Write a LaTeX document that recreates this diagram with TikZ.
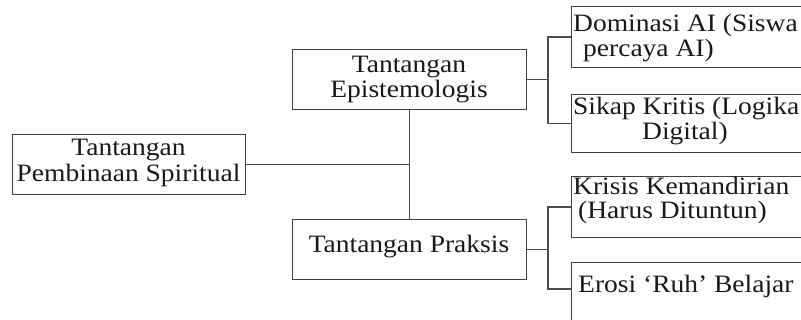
\documentclass[tikz,border=0pt]{standalone}
\usepackage{fontspec}
\setmainfont{Liberation Serif}[FakeStretch=1.1]
\usetikzlibrary{calc}
\begin{document}
\begin{tikzpicture}[x=1pt,y=-1pt,
  box/.style={draw=black!75, line width=1.3pt, rectangle, inner sep=0pt, anchor=north west},
  lbl/.style={font=\fontsize{25}{26}\selectfont, inner sep=0pt, text=black!90},
  conn/.style={draw=black!70, line width=1.3pt}]
\useasboundingbox (0,0) rectangle (801,320);
\clip (0,0) rectangle (801,320);
% boxes
\node[box, minimum width=233pt, minimum height=60pt] (sp) at (12,134) {};
\node[box, minimum width=234pt, minimum height=60pt] (ep) at (292,49) {};
\node[box, minimum width=234pt, minimum height=60pt] (pr) at (292,219) {};
\node[box, minimum width=260pt, minimum height=61pt] (dom) at (571,6) {};
\node[box, minimum width=260pt, minimum height=58pt] (sik) at (571,94) {};
\node[box, minimum width=260pt, minimum height=61pt] (kri) at (571,176) {};
\node[box, minimum width=260pt, minimum height=62pt] (ero) at (571,262) {};
% texts
\node[lbl, anchor=base] (t1a) at (128.5,156) {Tantangan};
\node[lbl, anchor=base] (t1b) at (128.5,182) {Pembinaan Spiritual};
\node[lbl, anchor=base] (t2a) at (409,73) {Tantangan};
\node[lbl, anchor=base] (t2b) at (409,98) {Epistemologis};
\node[lbl, anchor=base] (t3) at (409,253) {Tantangan Praksis};
\node[lbl, anchor=base west] (t4a) at (573,32) {Dominasi AI (Siswa};
\node[lbl, anchor=base west] (t4b) at (583,57) {percaya AI)};
\node[lbl, anchor=base west] (t5a) at (573,115) {Sikap Kritis (Logika};
\node[lbl, anchor=base west] (t5b) at (642,140) {Digital)};
\node[lbl, anchor=base west] (t6a) at (573,195) {Krisis Kemandirian};
\node[lbl, anchor=base west] (t6b) at (578,219) {(Harus Dituntun)};
\node[lbl, anchor=base west] (t7) at (578,293) {Erosi ‘Ruh’ Belajar};
% connectors
\coordinate (j1) at (548,80);
\coordinate (j2) at (548,248);
\coordinate (ew) at ($(ero.north west)+(0,27)$);
\draw[conn] (sp.east) -- (sp.east -| ep.south);
\draw[conn] (ep.south) -- (pr.north);
\draw[conn] (ep.east) -- (ep.east -| j1);
\draw[conn] (dom.west) -- (dom.west -| j1) -- (sik.west -| j1) -- (sik.west);
\draw[conn] (pr.east) -- (pr.east -| j2);
\draw[conn] (kri.west) -- (kri.west -| j2) -- (ew -| j2) -- (ew);
\end{tikzpicture}
\end{document}
